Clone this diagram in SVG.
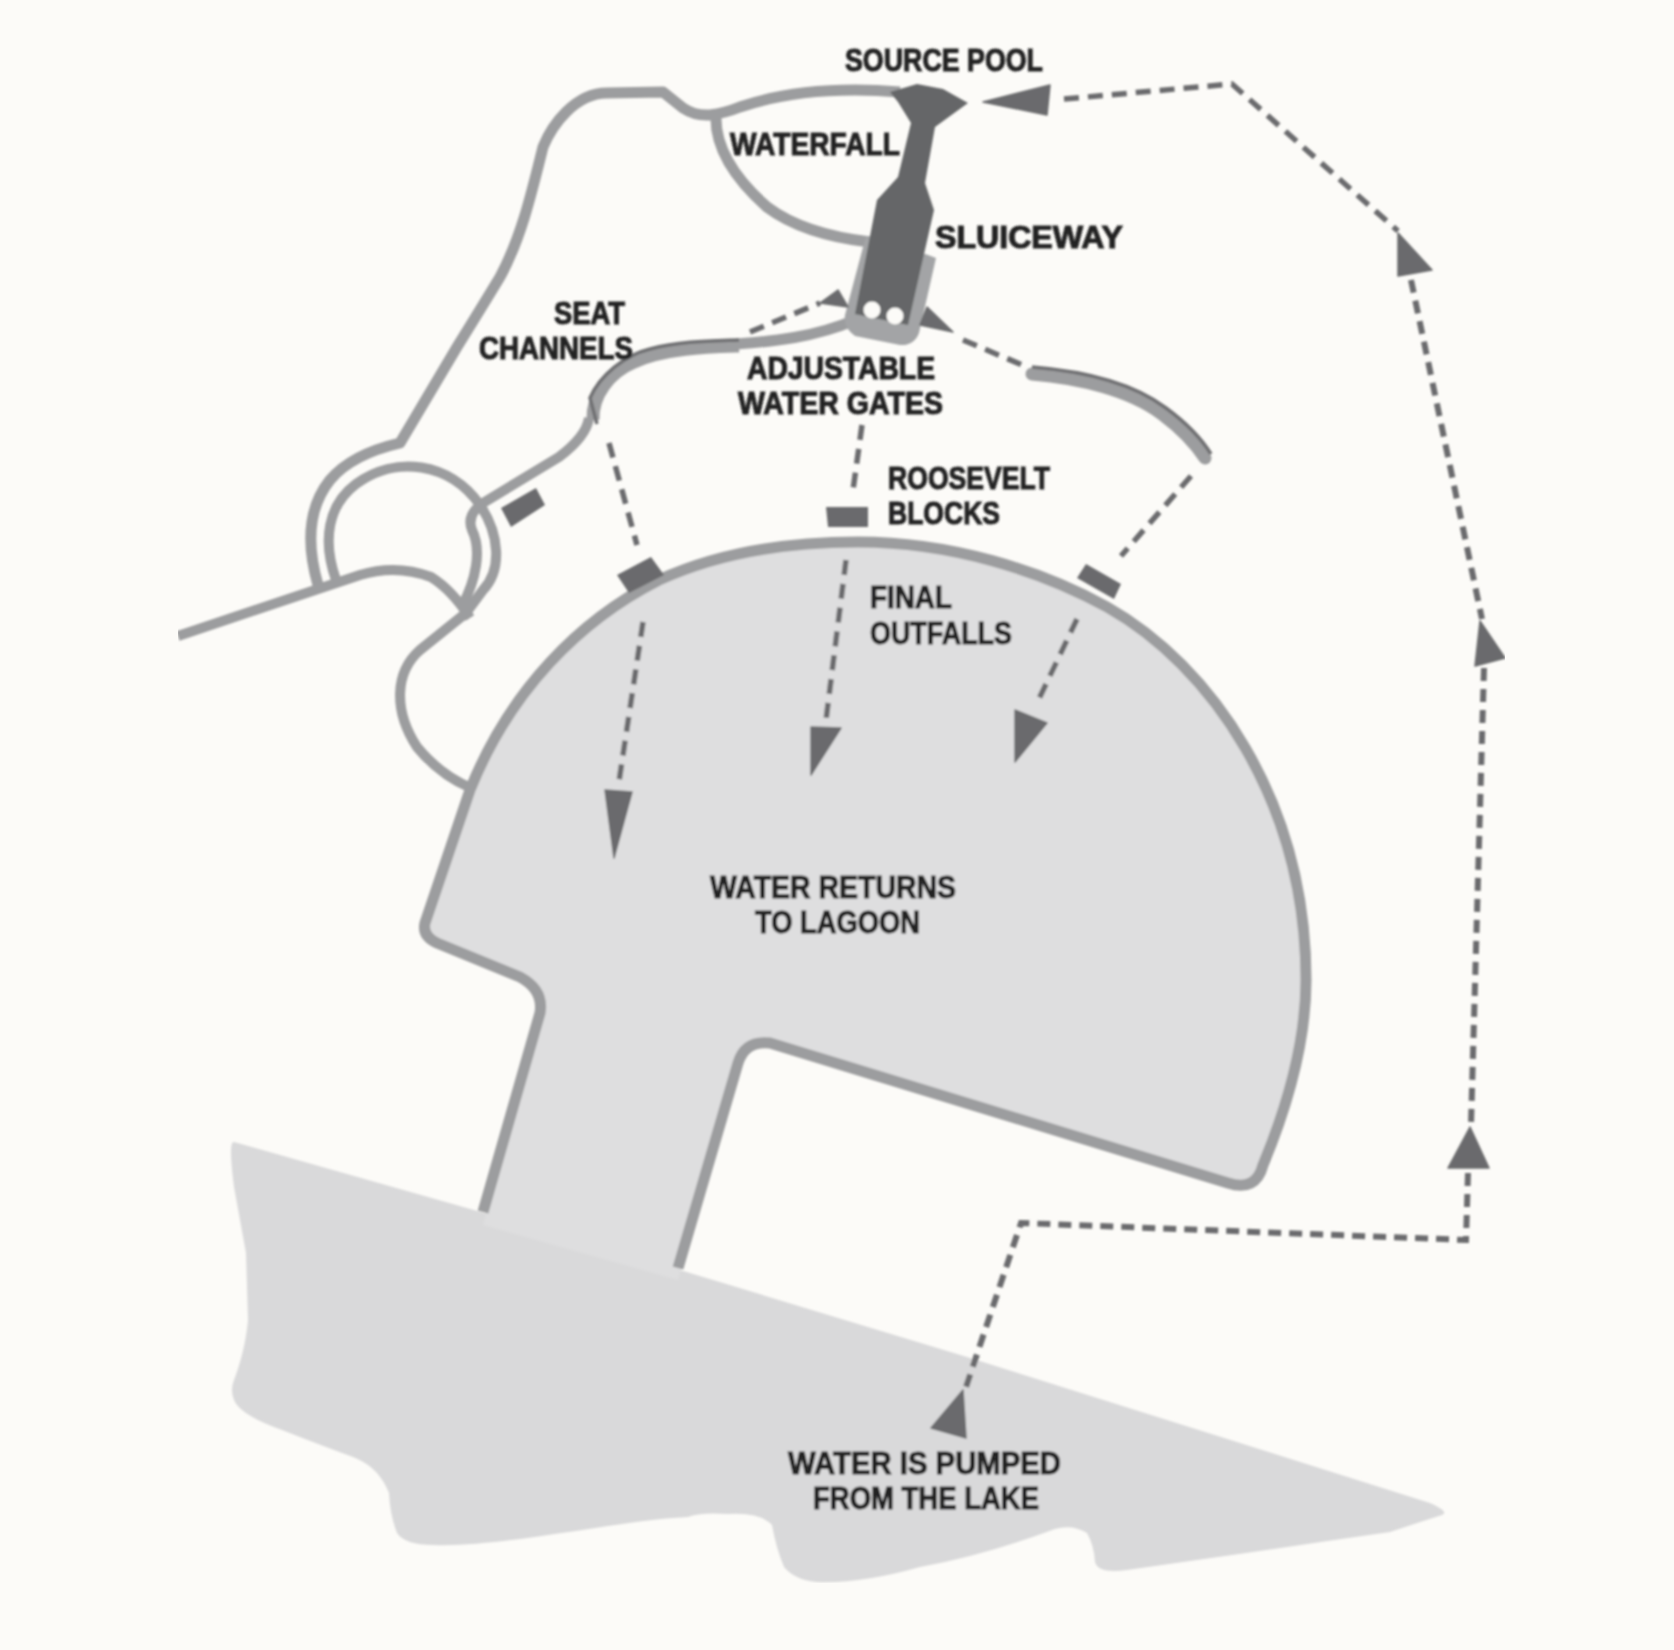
<svg xmlns="http://www.w3.org/2000/svg" width="1674" height="1650" viewBox="0 0 1674 1650">
<defs>
<style>
.road{fill:none;stroke:#9c9d9f;stroke-width:11;stroke-linejoin:round}
.thin{stroke-width:10}
.gate{stroke-width:13}
.edge{fill:none;stroke:#6f7072;stroke-width:3.5}
.dash{fill:none;stroke:#6a6b6d;stroke-width:5.5;stroke-dasharray:15 9}
.dash2{fill:none;stroke:#6a6b6d;stroke-width:6;stroke-dasharray:13 8}
.head{fill:#6a6b6d;stroke:#6a6b6d;stroke-width:1.5;stroke-linejoin:round}
.block{fill:#6a6b6d}
text{font-family:"Liberation Sans",Arial,sans-serif;font-weight:700;font-size:31px;fill:#232324;stroke:#232324;stroke-width:1}
</style>
<filter id="soft" x="0" y="0" width="100%" height="100%"><feGaussianBlur stdDeviation="1"/></filter>
</defs>
<rect width="1674" height="1650" fill="#fcfbf8"/>
<g filter="url(#soft)">
<g id="lake"><path fill="#d9d9da" d="M234 1142 L481 1212 L680 1270 L967 1357 L1430 1503 Q1450 1512 1442 1515 Q1420 1522 1390 1532 Q1320 1542 1246 1553 L1127 1570 Q1098 1574 1095 1562 Q1094 1545 1087 1533 Q1072 1524 1055 1529 Q985 1555 920 1567 Q860 1584 816 1582 Q795 1580 784 1567 Q776 1548 772 1525 Q760 1512 728 1514 Q700 1512 688 1517 C620 1520 500 1548 433 1545 Q405 1545 397 1533 Q390 1515 389 1493 C380 1470 365 1462 353 1457 Q320 1445 282 1430 Q240 1415 234 1400 Q230 1390 234 1380 C246 1350 248 1320 248 1320 L246 1253 L234 1187 Q228 1140 234 1142 Z"/></g>
<g id="lagoon">
<path fill="#dededf" d="M483 1225 L540 1013 Q544 990 520 977 L437 943 Q422 936 425 923 L470 790 C510 690 580 620 659 580 C720 552 790 542 858 542 C950 542 1040 570 1107 607 C1210 665 1306 800 1306 980 C1306 1040 1290 1100 1263 1165 Q1256 1192 1228 1183 L770 1043 Q745 1040 738 1063 L678 1280 Z"/>
<path class="road" d="M483 1212 L540 1013 Q544 990 520 977 L437 943 Q422 936 425 923 L470 790 C510 690 580 620 659 580 C720 552 790 542 858 542 C950 542 1040 570 1107 607 C1210 665 1306 800 1306 980 C1306 1040 1290 1100 1263 1165 Q1256 1192 1228 1183 L770 1043 Q745 1040 738 1063 L678 1268"/>
</g>
<g id="channels">
<path class="road thin" d="M178 636 L360 575 Q396 564 431 577 Q452 590 470 618"/>
<path class="road" d="M318 585 C308 550 306 510 330 480 C345 462 370 450 400 443 L457 347 Q480 310 500 277 C520 240 530 200 543 147 C552 125 575 93 607 93 L663 92 L683 108 Q695 116 710 115 Q725 113 740 107 C790 90 850 88 900 92"/>
<path class="road" d="M716 115 C715 140 725 170 767 207 C795 228 835 238 870 242"/>
<path class="road thin" d="M336 580 C322 540 328 505 356 484 C395 455 450 462 480 505 C500 535 502 570 483 590 L466 613 L420 650 C395 672 393 710 417 747 Q440 775 471 788"/>
<path class="road thin" d="M483 503 Q466 515 472 530 C482 550 476 580 462 606"/>
<path class="road thin" d="M483 503 L559 457 C575 445 587 432 589 418"/>
<path class="road" d="M700 346 C780 343 820 335 855 320"/>
<path class="road gate" d="M593 420 C592 395 610 372 634 362 C665 348 710 347 739 346"/>
<path class="edge" d="M597 424 L590 398 C600 375 625 355 650 349 C680 341 710 341 739 340"/>
</g>
<g id="sluice">
<path fill="#a3a4a6" d="M866 236 L880 237 L936 258 L919 333 Q914 346 900 345 L855 336 Q843 328 845 315 Z"/>
<path fill="#656668" d="M890 92 L917 84 L943 89 L968 103 L935 127 L925 183 L934 210 L908 325 L855 314 L877 200 L898 177 L911 123 L898 102 Z"/>
<circle cx="872" cy="310" r="8.5" fill="#fcfbf8"/><circle cx="895" cy="316" r="8.5" fill="#fcfbf8"/>
</g>
<g id="right-gate">
<path class="road gate" stroke-linecap="round" d="M1032 374 C1080 378 1130 390 1162 414 Q1190 435 1205 458"/>
<path class="edge" d="M1032 367 C1082 371 1133 383 1166 408 Q1196 430 1211 454"/>
</g>
<g id="blocks">
<polygon class="block" points="536,488 545,505 511,527 501,508"/>
<polygon class="block" points="651,557 664,575 629,593 617,575"/>
<polygon class="block" points="826,507 868,507 868,527 828,527"/>
<polygon class="block" points="1086,564 1121,584 1114,599 1077,578"/>
</g>
<g id="connectors">
<path class="dash" d="M750 332 L820 303"/>
<path class="dash" d="M963 340 L1027 367"/>
<path class="dash" d="M609 443 L637 545"/>
<path class="dash" d="M862 425 L853 490"/>
<path class="dash" d="M1191 476 L1121 556"/>
<path class="dash" d="M643 622 L618 788"/>
<path class="dash" d="M846 560 L826 720"/>
<path class="dash" d="M1077 619 L1037 703"/>
<path class="dash" d="M1064 99 L1232 84 L1398 231"/>
<path class="dash2" d="M1411 280 L1482 619"/>
<path class="dash2" d="M1484 668 L1471 1125"/>
<path class="dash2" d="M1468 1173 L1466 1240 L1021 1223 L965 1390"/>
<polygon class="head" points="983,102 1050,85 1047,115"/>
<polygon class="head" points="848,307 838,290 820,303"/>
<polygon class="head" points="927,307 953,332 920,325"/>
<polygon class="head" points="1398,233 1432,270 1398,276"/>
<polygon class="head" points="1480,621 1505,658 1475,666"/>
<polygon class="head" points="1470,1127 1448,1168 1489,1168"/>
<polygon class="head" points="963,1390 931,1428 966,1438"/>
<polygon class="head" points="605,790 632,792 614,858"/>
<polygon class="head" points="811,727 841,728 811,775"/>
<polygon class="head" points="1015,710 1047,723 1015,762"/>
</g>
<g id="labels">
<text x="845" y="71" textLength="198" lengthAdjust="spacingAndGlyphs">SOURCE POOL</text>
<text x="730" y="155" textLength="170" lengthAdjust="spacingAndGlyphs">WATERFALL</text>
<text x="935" y="248" textLength="188" lengthAdjust="spacingAndGlyphs">SLUICEWAY</text>
<text x="554" y="324" textLength="71" lengthAdjust="spacingAndGlyphs">SEAT</text>
<text x="479" y="359" textLength="154" lengthAdjust="spacingAndGlyphs">CHANNELS</text>
<text x="747" y="379" textLength="188" lengthAdjust="spacingAndGlyphs">ADJUSTABLE</text>
<text x="738" y="414" textLength="205" lengthAdjust="spacingAndGlyphs">WATER GATES</text>
<text x="888" y="489" textLength="162" lengthAdjust="spacingAndGlyphs">ROOSEVELT</text>
<text x="888" y="524" textLength="112" lengthAdjust="spacingAndGlyphs">BLOCKS</text>
<text x="870" y="608" textLength="82" lengthAdjust="spacingAndGlyphs">FINAL</text>
<text x="870" y="644" textLength="142" lengthAdjust="spacingAndGlyphs">OUTFALLS</text>
<text x="710" y="898" textLength="246" lengthAdjust="spacingAndGlyphs">WATER RETURNS</text>
<text x="755" y="933" textLength="165" lengthAdjust="spacingAndGlyphs">TO LAGOON</text>
<text x="788" y="1474" textLength="273" lengthAdjust="spacingAndGlyphs">WATER IS PUMPED</text>
<text x="813" y="1509" textLength="226" lengthAdjust="spacingAndGlyphs">FROM THE LAKE</text>
</g>
</g>
</svg>
